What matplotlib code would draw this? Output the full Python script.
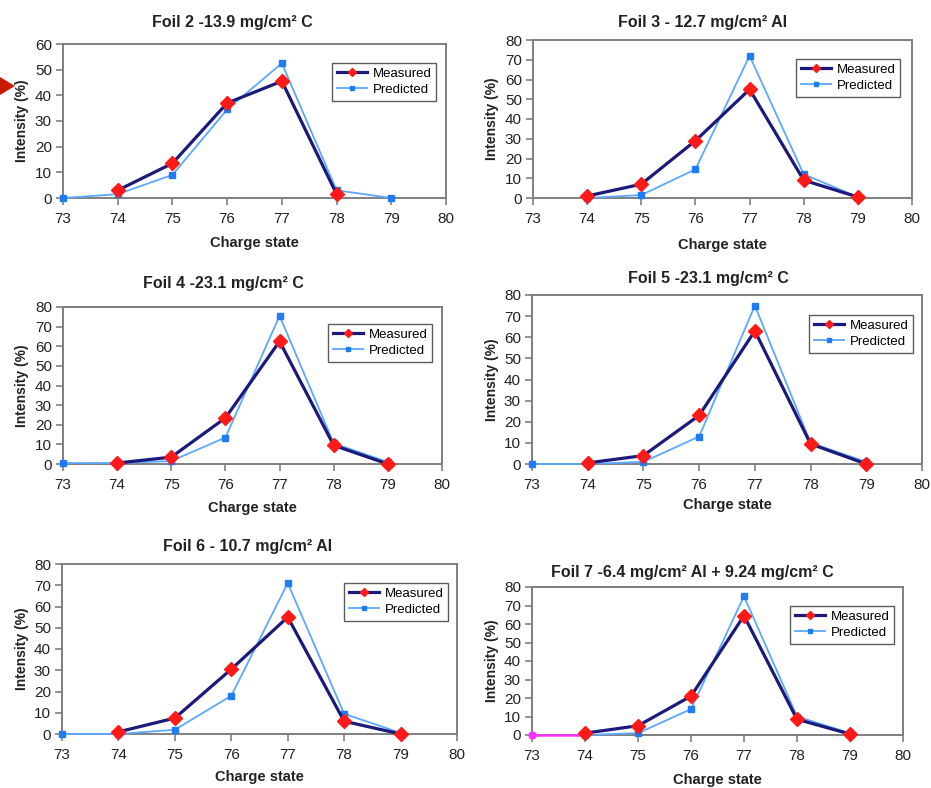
import matplotlib
matplotlib.use("Agg")
import matplotlib.pyplot as plt
from matplotlib.patches import Polygon

plt.rcParams['font.family'] = ['Liberation Sans', 'DejaVu Sans']

# Charge-state distributions for each foil
titles = [
    "Foil 2 -13.9 mg/cm² C",
    "Foil 3 - 12.7 mg/cm² Al",
    "Foil 4 -23.1 mg/cm² C",
    "Foil 5 -23.1 mg/cm² C",
    "Foil 6 - 10.7 mg/cm² Al",
    "Foil 7 -6.4 mg/cm² Al + 9.24 mg/cm² C",
]

meas_x = [
    [74, 75, 76, 77, 78],
    [74, 75, 76, 77, 78, 79],
    [74, 75, 76, 77, 78, 79],
    [74, 75, 76, 77, 78, 79],
    [74, 75, 76, 77, 78, 79],
    [74, 75, 76, 77, 78, 79],
]
meas_y = [
    [3, 13.5, 37, 45.5, 1.5],
    [1, 7, 29, 55, 9, 0.5],
    [0.5, 3.5, 23.5, 62.5, 9.5, 0],
    [0.5, 4, 23, 63, 9.5, 0],
    [1, 7.5, 30.5, 55, 6, 0],
    [1, 5, 21, 64.5, 8.5, 0.5],
]

pred_x = [
    [73, 74, 75, 76, 77, 78, 79],
    [74, 75, 76, 77, 78, 79],
    [73, 74, 75, 76, 77, 78, 79],
    [73, 74, 75, 76, 77, 78, 79],
    [73, 74, 75, 76, 77, 78, 79],
    [74, 75, 76, 77, 78, 79],
]
pred_y = [
    [0, 1.5, 9, 34.5, 52.5, 3, 0],
    [0, 1.5, 14.5, 72, 12, 0.5],
    [0.5, 0.5, 1.5, 13.5, 75.5, 10.5, 1],
    [0, 0, 1, 13, 75, 10, 1],
    [0, 0, 2, 18, 71, 9.5, 0.5],
    [0, 1, 14, 75, 10, 1],
]

# Extra baseline series shown only in the Foil 7 panel
extra_x = [73, 74]
extra_y = [0, 0]

y_max = [60, 80, 80, 80, 80, 80]
x_ticks = [73, 74, 75, 76, 77, 78, 79, 80]

W, H = 931, 788
fig = plt.figure(figsize=(W / 100, H / 100), dpi=100)

# panel boxes in pixels: (left, top, right, bottom)
boxes = [
    (63, 44, 446, 198),
    (533, 40, 912, 198),
    (63, 307, 442, 464),
    (532, 295, 922, 464),
    (62, 564, 457, 734),
    (532, 587, 903, 735),
]
legend_anchor = [
    (0.974, 0.877), (0.968, 0.880), (0.974, 0.892),
    (0.977, 0.882), (0.977, 0.888), (0.976, 0.872),
]
title_pos = [(232, 22), (703, 22), (223, 283), (708, 278), (248, 547), (692, 572)]
xlabel_y = [243, 245, 508, 505, 777, 780]
ylabel_x = [22, 492, 22, 492, 22, 492]

navy = "#1b1a7a"
red = "#ff1a1a"
lblue = "#5aa8ff"
blue = "#1f7cf2"
spine = "#7f7f7f"

for i in range(6):
    l, t, r, b = boxes[i]
    ax = fig.add_axes([l / W, 1 - b / H, (r - l) / W, (b - t) / H])
    ax.plot(pred_x[i], pred_y[i], color=lblue, lw=1.3, marker='s', ms=5,
            mfc=blue, mec=blue, label="Predicted", zorder=3, clip_on=False)
    ax.plot(meas_x[i], meas_y[i], color=navy, lw=2.3, marker='D', ms=7,
            mfc=red, mec=red, label="Measured", zorder=4, clip_on=False)
    if i == 5:
        ax.plot(extra_x, extra_y, color="#ff33ff", lw=1.8, marker='o', ms=5,
                mfc="#ff33ff", mec="#ff33ff", zorder=3.5, clip_on=False)
    ax.set_xlim(73, 80)
    ax.set_ylim(0, y_max[i])
    ax.set_xticks(x_ticks)
    ax.set_yticks(range(0, y_max[i] + 1, 10))
    ax.tick_params(direction='out', length=5, width=1.2, color=spine,
                   labelsize=11, labelcolor="#222222")
    ax.tick_params(axis='x', pad=5)
    ax.tick_params(axis='y', pad=3)
    for s in ax.spines.values():
        s.set_color(spine)
        s.set_linewidth(1.4)
    handles, labels = ax.get_legend_handles_labels()
    leg = ax.legend(handles[::-1], labels[::-1], loc='upper right',
                    bbox_to_anchor=legend_anchor[i], fontsize=9.5,
                    frameon=True, fancybox=False, borderpad=0.35,
                    handlelength=2.3, handletextpad=0.4, labelspacing=0.3,
                    borderaxespad=0, markerscale=0.6)
    leg.get_frame().set_edgecolor("#333333")
    leg.get_frame().set_linewidth(1.0)
    fig.text(title_pos[i][0] / W, 1 - title_pos[i][1] / H, titles[i],
             ha='center', va='center', fontsize=11.5, fontweight='bold',
             color="#222222")
    fig.text(((l + r) / 2) / W, 1 - xlabel_y[i] / H, "Charge state",
             ha='center', va='center', fontsize=10.5, fontweight='bold',
             color="#222222")
    fig.text(ylabel_x[i] / W, 1 - ((t + b) / 2) / H, "Intensity (%)",
             ha='center', va='center', rotation=90, fontsize=10,
             fontweight='bold', color="#222222")

# pointer arrow at the left edge
fig.patches.append(Polygon([(0 / W, 1 - 77 / H), (15 / W, 1 - 86 / H), (0 / W, 1 - 95 / H)],
                           closed=True, transform=fig.transFigure,
                           facecolor="#cc1a00", edgecolor="none"))

fig.savefig("out.png", dpi=100)
